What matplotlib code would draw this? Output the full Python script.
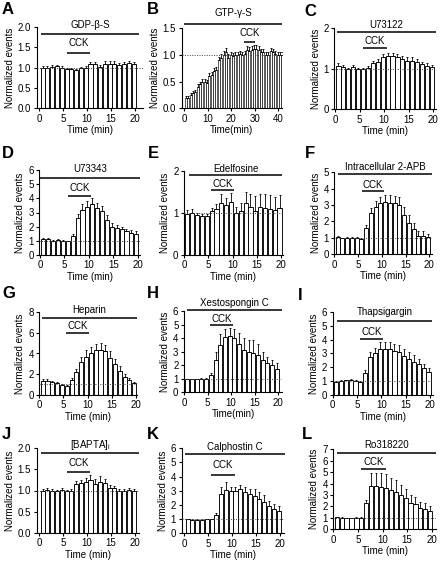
import matplotlib
matplotlib.use('Agg')
import matplotlib.pyplot as plt
import matplotlib.transforms as mtransforms
import numpy as np

plt.rcParams['font.family'] = ['Liberation Sans', 'DejaVu Sans']
plt.rcParams['font.size'] = 7
plt.rcParams['axes.linewidth'] = 0.8
plt.rcParams['xtick.major.width'] = 0.8
plt.rcParams['ytick.major.width'] = 0.8
plt.rcParams['xtick.major.size'] = 2.5
plt.rcParams['ytick.major.size'] = 2.5
plt.rcParams['xtick.major.pad'] = 1.5
plt.rcParams['ytick.major.pad'] = 1.5

# ---------------- data ----------------
time20 = list(range(1, 21))
time42 = list(range(1, 43))

a_vals = [0.99, 0.99, 1.02, 1.03, 1.00, 0.97, 0.96, 0.94, 0.98, 1.00, 1.08, 1.08, 1.02, 1.09, 1.09, 1.09, 1.07, 1.08, 1.12, 1.08]
a_err = [0.04, 0.04, 0.03, 0.03, 0.03, 0.03, 0.03, 0.03, 0.04, 0.04, 0.06, 0.06, 0.05, 0.06, 0.06, 0.06, 0.05, 0.05, 0.05, 0.05]

b_vals = [0.20, 0.20, 0.25, 0.28, 0.30, 0.40, 0.45, 0.50, 0.50, 0.48, 0.60, 0.62, 0.70, 0.72, 0.90, 0.95, 1.00, 1.05, 0.95, 1.00,
          0.98, 1.00, 1.00, 1.02, 1.00, 1.02, 1.10, 1.08, 1.10, 1.12, 1.12, 1.10, 1.05, 1.05, 1.00, 1.00, 1.07, 1.05, 1.02, 1.00, 1.00, 1.00]
b_err = [0.03, 0.03, 0.04, 0.04, 0.05, 0.05, 0.05, 0.05, 0.05, 0.05, 0.06, 0.06, 0.06, 0.06, 0.07, 0.07, 0.08, 0.08, 0.07, 0.06,
         0.05, 0.05, 0.05, 0.05, 0.05, 0.05, 0.06, 0.06, 0.06, 0.06, 0.06, 0.06, 0.06, 0.06, 0.06, 0.06, 0.06, 0.06, 0.06, 0.06, 0.06, 0.06]

c_vals = [1.08, 1.05, 1.00, 1.05, 1.00, 1.00, 1.02, 1.15, 1.18, 1.30, 1.32, 1.32, 1.30, 1.25, 1.20, 1.20, 1.18, 1.12, 1.08, 1.05]
c_err = [0.06, 0.05, 0.03, 0.04, 0.03, 0.03, 0.04, 0.05, 0.06, 0.06, 0.07, 0.07, 0.07, 0.07, 0.08, 0.08, 0.07, 0.06, 0.06, 0.05]

d_vals = [1.10, 1.10, 1.00, 1.05, 1.00, 0.95, 1.30, 2.60, 3.20, 3.40, 3.60, 3.35, 3.10, 2.50, 2.00, 1.90, 1.80, 1.65, 1.55, 1.50]
d_err = [0.10, 0.10, 0.05, 0.05, 0.05, 0.05, 0.15, 0.30, 0.40, 0.40, 0.40, 0.35, 0.35, 0.30, 0.25, 0.20, 0.20, 0.20, 0.20, 0.20]

e_vals = [0.98, 1.00, 0.95, 0.93, 0.92, 1.05, 1.10, 1.25, 1.20, 1.27, 1.00, 1.05, 1.25, 1.15, 1.05, 1.15, 1.13, 1.10, 1.08, 1.13]
e_err = [0.10, 0.10, 0.05, 0.05, 0.05, 0.08, 0.12, 0.20, 0.15, 0.20, 0.15, 0.20, 0.25, 0.30, 0.35, 0.30, 0.33, 0.33, 0.30, 0.30]

f_vals = [1.05, 0.95, 1.00, 1.00, 1.00, 0.90, 1.60, 2.50, 2.90, 3.10, 3.20, 3.10, 3.10, 3.00, 2.40, 1.90, 1.50, 1.10, 1.10, 1.05]
f_err = [0.05, 0.05, 0.05, 0.05, 0.05, 0.05, 0.20, 0.30, 0.35, 0.40, 0.40, 0.50, 0.45, 0.50, 0.50, 0.50, 0.40, 0.30, 0.30, 0.20]

g_vals = [1.30, 1.30, 1.20, 1.10, 0.95, 0.85, 1.40, 2.20, 3.20, 3.70, 4.00, 4.30, 4.30, 4.20, 3.60, 3.00, 2.30, 1.70, 1.40, 1.10]
g_err = [0.20, 0.20, 0.15, 0.10, 0.10, 0.10, 0.20, 0.30, 0.50, 0.60, 0.60, 0.60, 0.70, 0.60, 0.60, 0.50, 0.50, 0.30, 0.20, 0.10]

h_vals = [0.95, 0.95, 0.95, 1.00, 1.00, 1.30, 2.40, 3.50, 4.10, 4.20, 4.00, 3.60, 3.10, 3.00, 2.90, 2.80, 2.40, 2.20, 2.00, 1.75]
h_err = [0.05, 0.05, 0.05, 0.05, 0.05, 0.10, 0.60, 0.80, 0.60, 0.60, 0.70, 0.80, 0.90, 0.90, 1.00, 0.80, 0.60, 0.40, 0.40, 0.40]

i_vals = [0.95, 1.00, 1.05, 1.10, 1.00, 0.95, 1.60, 2.70, 3.00, 3.30, 3.35, 3.30, 3.20, 3.10, 2.80, 2.60, 2.40, 2.20, 1.95, 1.65]
i_err = [0.05, 0.05, 0.05, 0.05, 0.05, 0.05, 0.20, 0.40, 0.40, 0.50, 0.50, 0.50, 0.50, 0.50, 0.50, 0.50, 0.50, 0.40, 0.30, 0.30]

j_vals = [1.00, 1.02, 1.00, 0.98, 1.02, 0.98, 1.00, 1.15, 1.18, 1.20, 1.25, 1.15, 1.20, 1.17, 1.05, 1.05, 1.00, 1.00, 1.01, 1.00]
j_err = [0.03, 0.03, 0.03, 0.03, 0.03, 0.03, 0.04, 0.08, 0.08, 0.10, 0.12, 0.12, 0.15, 0.10, 0.08, 0.05, 0.04, 0.04, 0.04, 0.04]

k_vals = [1.00, 0.95, 0.95, 0.95, 1.00, 1.00, 1.30, 2.80, 3.05, 3.00, 3.00, 3.10, 2.90, 2.75, 2.60, 2.45, 2.20, 1.90, 1.70, 1.60]
k_err = [0.03, 0.03, 0.03, 0.03, 0.03, 0.03, 0.10, 0.50, 0.60, 0.30, 0.30, 0.30, 0.40, 0.40, 0.50, 0.50, 0.50, 0.40, 0.40, 0.30]

l_vals = [1.05, 1.00, 0.95, 0.95, 1.00, 1.00, 2.30, 3.80, 3.75, 3.70, 3.60, 3.40, 3.30, 3.00, 2.70, 2.30, 2.20, 1.90, 1.80, 1.60]
l_err = [0.05, 0.05, 0.05, 0.05, 0.05, 0.05, 0.30, 1.10, 1.20, 1.20, 1.20, 1.10, 1.00, 0.90, 0.80, 0.70, 0.60, 0.50, 0.50, 0.40]

letters = ['A', 'B', 'C', 'D', 'E', 'F', 'G', 'H', 'I', 'J', 'K', 'L']
drugs = ['GDP-β-S', 'GTP-γ-S', 'U73122', 'U73343', 'Edelfosine', 'Intracellular 2-APB',
         'Heparin', 'Xestospongin C', 'Thapsigargin', '[BAPTA]$_\\mathregular{i}$', 'Calphostin C', 'Ro318220']
xlabels = ['Time (min)', 'Time(min)', 'Time (min)', 'Time (min)', 'Time (min)', 'Time (min)',
           'Time (min)', 'Time(min)', 'Time (min)', 'Time (min)', 'Time (min)', 'Time (min)']
times = [time20, time42] + [time20] * 10
values = [a_vals, b_vals, c_vals, d_vals, e_vals, f_vals, g_vals, h_vals, i_vals, j_vals, k_vals, l_vals]
errors = [a_err, b_err, c_err, d_err, e_err, f_err, g_err, h_err, i_err, j_err, k_err, l_err]
ytops = [2.0, 1.5, 2, 6, 2, 5, 8, 6, 6, 2.0, 6, 7]
ysteps = [0.5, 0.5, 1, 1, 1, 1, 2, 1, 1, 0.5, 1, 1]
yfmts = ['{:.1f}', '{:.1f}', '{:.0f}', '{:.0f}', '{:.0f}', '{:.0f}', '{:.0f}', '{:.0f}', '{:.0f}', '{:.1f}', '{:.0f}', '{:.0f}']
xmaxtick = [20, 40] + [20] * 10
drug_span = [(0.3, 20.9), (0.0, 41.7), (0.5, 20.5), (0.0, 20.5), (1.0, 20.3), (0.8, 20.5),
             (0.5, 20.3), (0.6, 20.8), (0.8, 20.5), (0.3, 20.9), (0.1, 21.0), (0.7, 20.9)]
cck_span = [(5.7, 10.7), (25.5, 30.1), (5.6, 10.5), (5.7, 10.5), (5.6, 10.4), (5.8, 10.5),
            (5.6, 10.3), (5.6, 10.3), (5.6, 10.3), (5.7, 10.7), (5.5, 10.6), (5.6, 10.7)]

# ---------------- layout (pixels) ----------------
W, H = 440, 562
# spine_x, x0_px, xmax_px, right_px, top_px, bottom_px
boxes = [
    (36.7, 39.3, 135.0, 143.0, 26.7, 108.3),
    (181.7, 184.3, 278.3, 282.0, 28.3, 108.3),
    (334.3, 335.0, 433.3, 435.5, 28.3, 109.3),
    (39.3, 40.0, 137.7, 140.0, 170.3, 254.7),
    (184.0, 184.0, 281.0, 282.7, 171.3, 254.7),
    (334.3, 334.3, 429.3, 431.7, 172.3, 254.0),
    (39.3, 39.3, 135.7, 137.3, 312.3, 394.7),
    (184.0, 184.0, 278.3, 282.3, 311.3, 392.3),
    (332.7, 332.7, 430.0, 432.7, 312.0, 394.7),
    (36.7, 39.3, 135.0, 139.3, 448.3, 532.7),
    (181.7, 184.3, 280.0, 284.3, 448.3, 533.3),
    (333.3, 333.3, 431.7, 435.7, 449.3, 529.3),
]
drug_y = [(0.91, 1.02), (1.05, 1.19), (0.95, 1.04), (0.91, 1.01), (0.96, 1.03), (0.98, 1.07),
          (0.93, 1.03), (1.01, 1.10), (0.89, 1.00), (0.94, 1.04), (0.93, 1.02), (0.96, 1.05)]
cck_y = [(0.68, 0.80), (0.83, 0.94), (0.76, 0.84), (0.70, 0.79), (0.77, 0.85), (0.77, 0.85),
         (0.75, 0.83), (0.83, 0.91), (0.67, 0.76), (0.72, 0.82), (0.69, 0.80), (0.76, 0.84)]
letter_pos = [(2, 2), (147, 2), (304, 4), (2, 146), (148, 146), (305, 146),
              (2, 286), (147, 286), (298, 288), (2, 427), (147, 427), (302, 427)]

fig = plt.figure(figsize=(W / 100, H / 100), dpi=100)

for k in range(12):
    sx, x0, xm, rx, ty, by = boxes[k]
    ax = fig.add_axes([sx / W, 1 - by / H, (rx - sx) / W, (by - ty) / H])
    scale = (xm - x0) / xmaxtick[k]
    ax.set_xlim((sx - x0) / scale, (rx - x0) / scale)
    ax.set_ylim(0, ytops[k])
    t = np.array(times[k], dtype=float)
    v = np.array(values[k])
    e = np.array(errors[k])
    lw = 0.45 if k == 1 else 0.65
    ax.bar(t - 0.3, v, width=0.85, color='white', edgecolor='black', linewidth=lw, zorder=2)
    ax.errorbar(t - 0.3, v, yerr=[np.zeros_like(e), e], fmt='none', ecolor='black',
                elinewidth=0.6, capsize=0.8, capthick=0.6, zorder=3)
    ax.axhline(1.0, ls=(0, (1, 1.5)), color='0.25', lw=0.7, zorder=4)
    for s in ['top', 'right']:
        ax.spines[s].set_visible(False)
    yt = np.arange(0, ytops[k] + 1e-9, ysteps[k])
    ax.set_yticks(yt)
    ax.set_yticklabels([yfmts[k].format(y) for y in yt])
    xs = 5 if xmaxtick[k] == 20 else 10
    xt = np.arange(0, xmaxtick[k] + 1, xs)
    ax.set_xticks(xt)
    ax.set_xticklabels([str(int(x)) for x in xt])
    ax.set_ylabel('Normalized events', labelpad=2)
    ax.set_xlabel(xlabels[k], labelpad=1)
    trans = mtransforms.blended_transform_factory(ax.transData, ax.transAxes)
    d0, d1 = drug_span[k]
    ax.plot([d0, d1], [drug_y[k][0]] * 2, color='black', lw=1.1, transform=trans, clip_on=False,
            solid_capstyle='butt')
    ax.text((d0 + d1) / 2, drug_y[k][1], drugs[k], transform=trans, ha='center', va='center', fontsize=7)
    c0, c1 = cck_span[k]
    ax.plot([c0, c1], [cck_y[k][0]] * 2, color='black', lw=1.1, transform=trans, clip_on=False,
            solid_capstyle='butt')
    ax.text((c0 + c1) / 2, cck_y[k][1], 'CCK', transform=trans, ha='center', va='center', fontsize=7)
    lx, ly = letter_pos[k]
    fig.text(lx / W, 1 - ly / H, letters[k], fontsize=12, fontweight='bold', ha='left', va='top')

fig.savefig('out.png', dpi=100)
